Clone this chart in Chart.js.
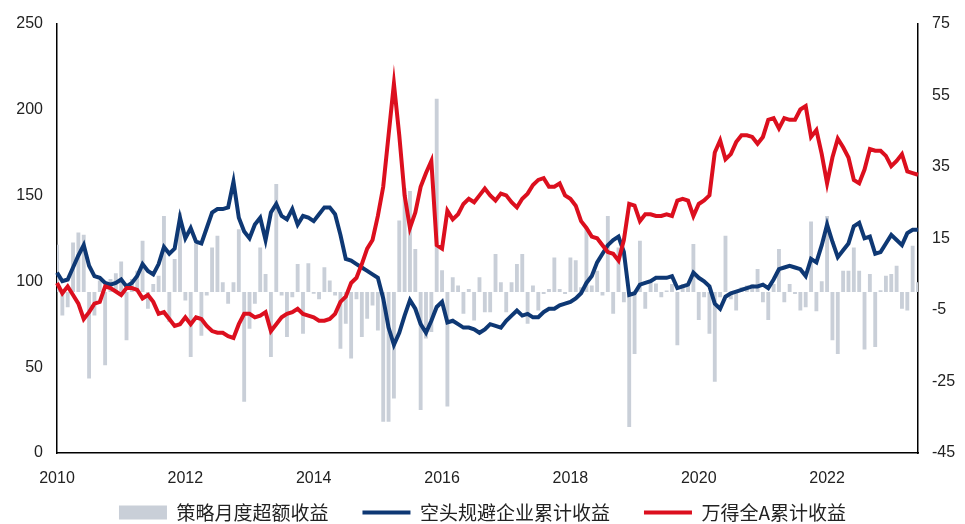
<!DOCTYPE html>
<html>
<head>
<meta charset="utf-8">
<script src="https://cdn.jsdelivr.net/npm/chart.js@4.4.0/dist/chart.umd.min.js"></script>
<style>
  html, body { margin: 0; padding: 0; background: #fff; }
  #wrap { width: 965px; height: 524px; }
</style>
</head>
<body>
<div id="wrap"><canvas id="chart" width="965" height="524"></canvas></div>
<script>
// monthly, Jan 2010 .. Jun 2023
const startYear = 2010;
const monthCount = 162;
const tickYears = ['2010', '2012', '2014', '2016', '2018', '2020', '2022'];
const seriesNames = ['策略月度超额收益', '空头规避企业累计收益', '万得全A累计收益'];

// 策略月度超额收益 (right axis, %)
const excessMonthly = [
  13.2, -6.6, -4.3, 13.8, 16.6, 16, -24.2, -6.6, 3.2, -20.5,
  3.6, 5.2, 8.5, -13.5, 3.6, 5.9, 14.3, -4.7, 2.2, 4.5,
  21.2, -8.4, 9.2, 22.2, -2.4, -18.2, 13.4, -12.2, -1, 12.4,
  15.7, 2.7, -3.3, 2.7, 17.5, -30.7, -10.3, -3.3, 12.4, 5,
  -18.2, 30.2, -1, -12.6, -1.5, 7.8, -11.7, 8, -0.5, -2,
  6.9, 3.2, -1, -15.9,
  -8.9, -18.6, -2, -12.6, -7.5, -3.8,
  -10.8, -36.3, -36.3, -29.8, 20, 29, 28.2, 12, -33, -13,
  -11.2, 54, 6.1, -32, 4.1, 1.8, -6.1, 0.8, -8, 4.1,
  -5.7, -5.7, 10.6, 2.7, -5.7, 2.7, 7.8, 10.6, -8.9, 1.8,
  -5.2, -0.6, 0.8, 9.6, 0.8, -0.6, 9.6, 8.9, 1.3, 17.8,
  1.8, 5.9, -1, 21.2, -6.1, 12.4, -2.9, -37.7,
  -17.3, 14.3, -4.7, 2.7, 2.4, -1.5, 0.4, 2.2, -14.9, 2.2,
  1.5, 13.4, -7.8, -1.5, -11.7, -25.1, -1.5, 15.7, -2, -5.2,
  1.3, 1.8, 2.2, 6.4, -2.9, -7.8, 2.2, 12, -2.9, 2.2,
  -0.6, -5.2, -4.3, 19.7, -5.4, 3, 21.2, -13.5, -17.3, 5.9,
  5.9, 12.4, 5.9, -16.1, 5, -15.4, 0.5, 4.5, 5, 7.3,
  -4.7, -5.2, 12.9, 2.7
];

// 空头规避企业累计收益 (left axis)
const avoidCum = [
  105, 100, 101, 108, 115, 121, 109, 103, 102, 99,
  98, 99, 101, 97, 99, 103, 110, 106, 104, 110,
  120, 116, 119, 137, 125, 131, 123, 122, 131, 140,
  142, 142, 143, 158, 137, 129, 125, 133, 137, 124,
  140, 145, 138, 136, 142, 133, 138, 137, 135, 139,
  143, 143, 139, 127,
  113, 112, 110, 108, 106, 104,
  102, 90, 73, 63, 70, 80, 89, 84, 75, 70,
  77, 85, 88, 76, 77, 75, 73, 73, 72, 70,
  72, 75, 74, 73, 77, 80, 83, 80, 81, 79,
  79, 82, 84, 84, 86, 87, 88, 90, 93, 99,
  103, 111, 116, 121, 124, 126, 117, 92,
  93, 98, 99, 100, 102, 102, 102, 103, 96, 97,
  98, 105, 102, 100, 97, 87, 84, 91, 93, 94,
  95, 96, 97, 97, 98, 96, 101, 107, 108, 109,
  108, 107, 103, 113, 111, 121, 133, 123, 114, 118,
  122, 132, 134, 125, 126, 116, 117, 122, 127, 124,
  121, 128, 130, 130
];

// 万得全A累计收益 (left axis)
const windACum = [
  99, 93, 97, 92, 87, 78, 82, 87, 88, 97,
  96, 94, 92, 96, 96, 95, 90, 92, 88, 81,
  82, 78, 74, 75, 79, 75, 79, 78, 74, 71,
  70, 70, 68, 67, 75, 81, 81, 79, 80, 82,
  71, 75, 79, 81, 82, 84, 81, 80, 79, 77,
  77, 78, 81, 88,
  91, 99, 102, 110, 119, 124,
  138, 155, 185, 215, 185, 150, 131, 140, 155, 163,
  170, 121, 119, 141, 136, 139, 145, 148, 146, 150,
  154, 150, 147, 151, 150, 146, 143, 148, 151, 156,
  159, 160, 155, 155, 157, 150, 148, 144, 135, 131,
  126, 125, 121, 117, 116, 112, 124, 145,
  144, 135, 139, 139, 138, 138, 139, 138, 147, 148,
  147, 138, 145, 147, 150, 175, 182, 171, 174, 181,
  185, 185, 184, 180, 184, 194, 195, 189, 195, 194,
  194, 200, 202, 184, 188, 174, 157, 172, 183, 178,
  172, 159, 157, 165, 177, 176, 176, 173, 167, 170,
  174, 164, 163, 162
];

const monthLabels = [];
for (let i = 0; i < monthCount; i++) {
  const y = startYear + Math.floor(i / 12);
  const m = (i % 12) + 1;
  monthLabels.push(y + '-' + (m < 10 ? '0' + m : m));
}

Chart.defaults.font.family = "'Liberation Sans Narrow', 'Liberation Sans', Arial, sans-serif";
Chart.defaults.color = '#222';

// short legend strip, nudged up a little so the plot reaches down like the original
const legendPlace = {
  id: 'legendPlace',
  beforeInit(chart) {
    const fit = chart.legend.fit;
    chart.legend.fit = function () {
      fit.call(this);
      this.height = 35;
    };
  },
  afterLayout(chart) {
    chart.legend.top -= 20;
  }
};

const ctx = document.getElementById('chart').getContext('2d');
const chart = new Chart(ctx, {
  type: 'bar',
  data: {
    labels: monthLabels,
    datasets: [{
      type: 'bar',
      label: seriesNames[0],
      data: excessMonthly,
      yAxisID: 'y1',
      backgroundColor: '#c9cfd8',
      borderWidth: 0,
      barPercentage: 0.72,
      categoryPercentage: 1,
      pointStyle: 'rect',
      order: 3
    }, {
      type: 'line',
      label: seriesNames[1],
      data: avoidCum,
      yAxisID: 'y',
      borderColor: '#0e3874',
      backgroundColor: '#0e3874',
      borderWidth: 4,
      pointRadius: 0,
      pointStyle: 'line',
      tension: 0,
      order: 2
    }, {
      type: 'line',
      label: seriesNames[2],
      data: windACum,
      yAxisID: 'y',
      borderColor: '#dc0f1e',
      backgroundColor: '#dc0f1e',
      borderWidth: 4,
      pointRadius: 0,
      pointStyle: 'line',
      tension: 0,
      order: 1
    }]
  },
  plugins: [legendPlace],
  options: {
    responsive: false,
    animation: false,
    layout: { padding: { top: 22, left: 0, right: 0, bottom: 0 } },
    plugins: {
      tooltip: { enabled: false },
      legend: {
        position: 'bottom',
        labels: {
          usePointStyle: true,
          pointStyleWidth: 48,
          boxHeight: 14,
          padding: 34,
          color: '#222',
          sort: (a, b) => a.datasetIndex - b.datasetIndex,
          font: { family: "'Noto Sans CJK SC', 'Noto Sans', sans-serif", size: 19 }
        }
      }
    },
    scales: {
      x: {
        type: 'category',
        offset: false,
        grid: { display: false, drawTicks: false },
        border: { display: true, color: '#000', width: 1.5 },
        ticks: {
          autoSkip: false,
          maxRotation: 0,
          padding: 16,
          font: { size: 16 },
          callback: function (val, idx) {
            const lab = monthLabels[idx];
            const yr = lab.slice(0, 4);
            return lab.endsWith('-01') && tickYears.includes(yr) ? yr : null;
          }
        },
        afterFit: function (scale) { scale.height = 36; }
      },
      y: {
        position: 'left',
        min: 0,
        max: 250,
        grid: { display: false, drawTicks: false },
        border: { display: true, color: '#000', width: 1.5 },
        ticks: { stepSize: 50, padding: 14, font: { size: 16 } },
        afterFit: function (scale) { scale.width = 57; }
      },
      y1: {
        position: 'right',
        min: -45,
        max: 75,
        grid: { display: false, drawTicks: false },
        border: { display: true, color: '#000', width: 1.5 },
        ticks: { stepSize: 20, padding: 14, font: { size: 16 } },
        afterFit: function (scale) { scale.width = 47; }
      }
    }
  }
});
</script>
</body>
</html>
